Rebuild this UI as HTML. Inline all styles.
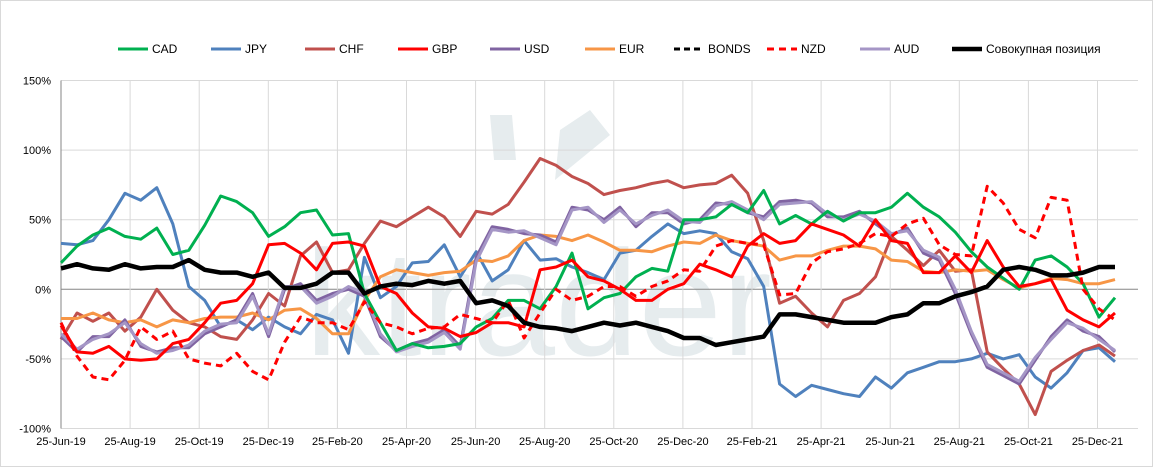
<!DOCTYPE html>
<html><head><meta charset="utf-8"><style>
body{margin:0;background:#fff;}
svg{display:block;font-family:"Liberation Sans","Noto Sans CJK SC",sans-serif;}
</style></head><body>
<svg id="chart" width="1153" height="467" viewBox="0 0 1153 467">
<rect x="0.5" y="0.5" width="1152" height="466" fill="#fff" stroke="#d9d9d9"/>
<g fill="#e6ecee">
<text x="305" y="355" font-size="150">ktrader</text>
<path d="M490 115 l22 0 l4 45 l-22 0 z M560 130 l30 -20 l20 25 l-55 45 z"/>
</g>
<g id="grid"></g><g id="series"></g><g id="legend"></g>
</svg>
<script>
const weeks=[0,2,4,6,8,10,12,14,16,18,20,22,24,26,28,30,32,34,36,38,40,42,44,46,48,50,52,54,56,58,60,62,64,66,68,70,72,74,76,78,80,82,84,86,88,90,92,94,96,98,100,102,104,106,108,110,112,114,116,118,120,122,124,126,128,130,132];
const xTickLabels=["25-Jun-19","25-Aug-19","25-Oct-19","25-Dec-19","25-Feb-20","25-Apr-20","25-Jun-20","25-Aug-20","25-Oct-20","25-Dec-20","25-Feb-21","25-Apr-21","25-Jun-21","25-Aug-21","25-Oct-21","25-Dec-21"];
const yTicks=[150,100,50,0,-50,-100];
const cad=[19,31,39,44,38,36,44,25,28,46,67,63,55,38,45,55,57,39,40,-3,-24,-44,-39,-42,-41,-39,-27,-21,-8,-8,-14,2,26,-14,-6,-3,9,15,13,50,50,52,61,55,71,47,53,47,56,49,55,55,59,69,59,52,41,27,16,8,0,21,24,16,4,-20,-6];
const jpy=[33,32,35,50,69,64,73,47,2,-8,-27,-22,-29,-20,-27,-32,-18,-22,-46,23,-6,2,19,20,32,9,27,6,14,35,21,22,16,12,7,26,28,38,47,40,42,40,27,22,2,-68,-77,-69,-72,-75,-77,-63,-71,-60,-56,-52,-52,-50,-46,-50,-47,-63,-71,-60,-44,-42,-52];
const chf=[-36,-17,-23,-17,-30,-20,0,-15,-24,-27,-34,-36,-22,-3,-12,24,34,12,14,33,49,45,52,59,52,38,56,54,61,77,94,89,81,76,68,71,73,76,78,73,75,76,82,69,35,-10,-5,-17,-27,-8,-3,9,38,28,17,28,13,14,-45,-57,-68,-90,-59,-51,-44,-40,-48];
const gbp=[-26,-45,-46,-41,-50,-51,-50,-39,-36,-24,-10,-8,4,32,33,26,14,33,34,31,2,-3,-17,-27,-28,-34,-31,-24,-24,-27,14,16,21,9,6,0,-8,-8,0,4,18,14,9,31,40,33,35,47,43,39,31,50,35,33,12,12,24,12,35,16,2,4,7,-15,-22,-27,-17];
const usd=[-34,-45,-34,-34,-22,-41,-45,-42,-42,-32,-27,-22,-3,-34,0,4,-8,-3,0,-5,-34,-44,-39,-36,-29,-41,23,45,43,40,39,34,59,57,50,59,45,55,55,47,50,62,61,55,52,63,64,62,52,52,56,47,39,44,26,21,-3,-32,-56,-62,-68,-51,-34,-22,-30,-34,-45];
const eur=[-21,-21,-17,-22,-24,-22,-27,-22,-24,-21,-20,-20,-17,-22,-15,-14,-21,-32,-32,-8,9,14,12,10,12,13,21,20,24,35,39,38,35,39,34,28,28,27,31,34,33,39,35,33,31,21,24,24,28,31,31,29,21,20,13,12,14,13,14,7,1,4,8,7,4,4,7];
const bonds=[];
const nzd=[-24,-48,-63,-65,-51,-27,-36,-30,-50,-53,-55,-46,-59,-65,-38,-20,-24,-24,-29,-9,-24,-27,-32,-28,-27,-18,-21,-24,-8,-35,-17,0,-8,-5,2,2,-5,2,6,14,13,31,35,33,32,-4,-3,19,27,29,33,40,38,47,51,32,25,24,74,62,43,37,66,64,0,-14,-22];
const aud=[-32,-43,-36,-32,-24,-39,-46,-44,-40,-30,-25,-24,-5,-32,2,2,-10,-5,2,-3,-32,-45,-41,-38,-31,-43,20,43,41,42,37,32,57,59,48,57,47,53,57,49,48,60,63,57,50,61,62,63,54,50,54,49,40,42,28,23,0,-30,-54,-60,-66,-49,-36,-24,-28,-36,-44];
const total=[15,18,15,14,18,15,16,16,21,14,12,12,9,12,1,1,4,12,12,-3,2,4,3,6,4,6,-10,-8,-12,-24,-27,-28,-30,-27,-24,-26,-24,-27,-30,-35,-35,-40,-38,-36,-34,-18,-18,-20,-22,-24,-24,-24,-20,-18,-10,-10,-5,-2,2,14,16,14,10,10,12,16,16];
const NS="http://www.w3.org/2000/svg";
const X0=61,X1=1115,Y0=289.3,PX=1.392;
function xs(w){return X0+(w/132)*(X1-X0);}
function ys(v){return Y0-v*PX;}
function mk(t,a,p){const e=document.createElementNS(NS,t);for(const k in a)e.setAttribute(k,a[k]);p.appendChild(e);return e;}
const grid=document.getElementById('grid');
yTicks.forEach(v=>{
 const l=mk('line',{x1:X0,x2:1138,y1:ys(v),y2:ys(v),stroke:v===0?'#868686':'#d9d9d9','stroke-width':1},grid);
 
 
 const t=mk('text',{x:51,y:ys(v)+4,'text-anchor':'end','font-size':11,fill:'#000'},grid);
 t.textContent=v+'%';
 
 
});
xTickLabels.forEach((s,i)=>{
 const x=X0+i*69.1;
 if(i>0){const l=mk('line',{x1:x,x2:x,y1:ys(150),y2:ys(-100),stroke:'#d9d9d9','stroke-width':1},grid);
 
 }
 const t=mk('text',{x:x,y:445,'text-anchor':'middle','font-size':11,fill:'#000'},grid);
 t.textContent=s;
 
 
});
const ax=mk('line',{x1:X0,x2:X0,y1:ys(150),y2:ys(-100),stroke:'#868686'},grid);


const defs=[
 ['CAD',cad,'#00b050',3,null,118],['JPY',jpy,'#4f81bd',3,null,211],['CHF',chf,'#c0504d',3,null,305],
 ['GBP',gbp,'#ff0000',3,null,398],['USD',usd,'#8064a2',3,null,490],['EUR',eur,'#f79646',3,null,585],
 ['BONDS',bonds,'#000',3,'6,4',674],['NZD',nzd,'#ff0000',3,'7,5',767],['AUD',aud,'#a596c6',3,null,860],
 ['Совокупная позиция',total,'#000',4.5,null,952]];
const sg=document.getElementById('series'),lg=document.getElementById('legend');
const order=[1,2,5,4,8,0,3,7,6,9];
order.forEach(i=>{const d=defs[i];if(!d[1].length)return;
 const p=mk('polyline',{points:d[1].map((v,j)=>xs(weeks[j]).toFixed(1)+','+ys(v).toFixed(1)).join(' '),fill:'none',stroke:d[2],'stroke-width':d[3],'stroke-linejoin':'round'},sg);
 if(d[4])p.setAttribute('stroke-dasharray',d[4]);
 
 
});
defs.forEach(d=>{
 const g=mk('g',{},lg);
 
 
 const l=mk('line',{x1:d[5],x2:d[5]+30,y1:49,y2:49,stroke:d[2],'stroke-width':d[3]},g);
 if(d[4])l.setAttribute('stroke-dasharray',d[4]);
 const t=mk('text',{x:d[5]+34,y:53,'font-size':12,fill:'#000'},g);
 t.textContent=d[0];
});
</script>
</body></html>
